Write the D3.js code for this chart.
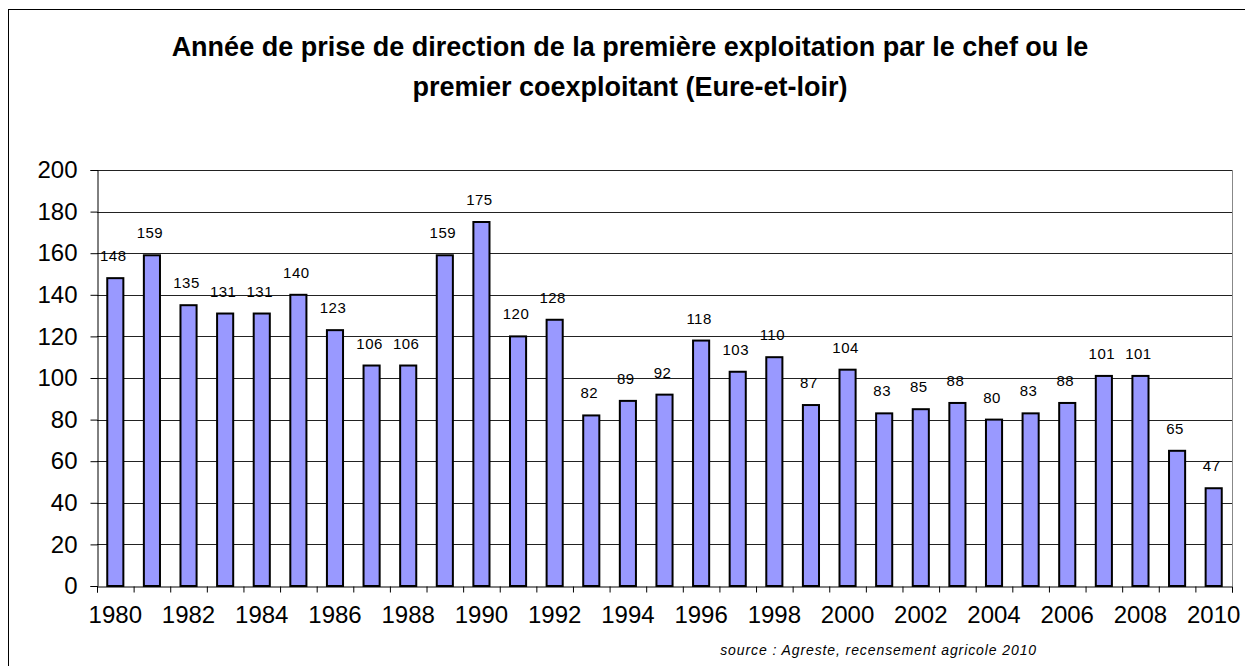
<!DOCTYPE html>
<html>
<head>
<meta charset="utf-8">
<script src="https://cdn.jsdelivr.net/npm/d3@7"></script>
<style>
  body { margin: 0; background: #fff; }
</style>
</head>
<body>
<div class="chart"></div>
<script>
// ---------------------------------- DATA
var years = [1980, 1981, 1982, 1983, 1984, 1985, 1986, 1987, 1988, 1989,
             1990, 1991, 1992, 1993, 1994, 1995, 1996, 1997, 1998, 1999,
             2000, 2001, 2002, 2003, 2004, 2005, 2006, 2007, 2008, 2009, 2010];
var counts = [148, 159, 135, 131, 131, 140, 123, 106, 106, 159,
              175, 120, 128, 82, 89, 92, 118, 103, 110, 87,
              104, 83, 85, 88, 80, 83, 88, 101, 101, 65, 47];
var yTicks = [0, 20, 40, 60, 80, 100, 120, 140, 160, 180, 200];
var titleLines = ["Année de prise de direction de la première exploitation par le chef ou le",
                  "premier coexploitant (Eure-et-loir)"];
var sourceText = "source : Agreste, recensement agricole 2010";

// ---------------------------------- SETUP
var width = 1245, height = 666;
var margin = {left: 97, right: 13, top: 170, bottom: 80};
var font = "'Liberation Sans', Arimo, Arial, sans-serif";

var svg = d3.select(".chart").append("svg")
  .attr("width", width)
  .attr("height", height);

// chart frame (right and bottom lie outside the picture)
svg.append("rect")
  .attr("x", 8.5).attr("y", 9.5)
  .attr("width", 1260).attr("height", 700)
  .attr("fill", "none")
  .attr("stroke", "#000");

var x = d3.scaleBand()
  .domain(years)
  .range([margin.left, width - margin.right])
  .paddingInner(0.56)
  .paddingOuter(0.28);

var y = d3.scaleLinear()
  .domain([0, 200])
  .range([height - margin.bottom, margin.top]);

// ---------------------------------- TITLE
svg.append("text")
  .attr("x", 630)
  .attr("text-anchor", "middle")
  .attr("font-family", font)
  .attr("font-weight", "bold")
  .attr("font-size", 27)
  .selectAll("tspan")
  .data(titleLines)
  .enter().append("tspan")
    .attr("x", 630)
    .attr("y", function(d, i) { return 56 + i * 40; })
    .text(function(d) { return d; });

// ---------------------------------- GRID
svg.append("g")
  .selectAll("line")
  .data(yTicks.slice(1))
  .enter().append("line")
    .attr("x1", margin.left)
    .attr("x2", width - margin.right)
    .attr("y1", function(d) { return Math.round(y(d)) + 0.5; })
    .attr("y2", function(d) { return Math.round(y(d)) + 0.5; })
    .attr("stroke", "#222");

// right border of plot area
svg.append("line")
  .attr("x1", width - margin.right + 0.5)
  .attr("x2", width - margin.right + 0.5)
  .attr("y1", y(200))
  .attr("y2", y(0))
  .attr("stroke", "#888");

// ---------------------------------- BARS
svg.append("g")
  .selectAll("rect")
  .data(counts)
  .enter().append("rect")
    .attr("x", function(d, i) { return x(years[i]); })
    .attr("y", function(d) { return y(d); })
    .attr("width", x.bandwidth())
    .attr("height", function(d) { return y(0) - y(d); })
    .attr("fill", "#9999ff")
    .attr("stroke", "#000")
    .attr("stroke-width", 2);

// value labels
svg.append("g")
  .selectAll("text")
  .data(counts)
  .enter().append("text")
    .attr("x", function(d, i) { return x(years[i]) + x.bandwidth() / 2 - 2; })
    .attr("y", function(d) { return y(d) - 17; })
    .attr("text-anchor", "middle")
    .attr("font-family", font)
    .attr("font-size", 15)
    .attr("letter-spacing", 0.5)
    .text(function(d) { return d; });

// ---------------------------------- AXES
var xAxis = d3.axisBottom(d3.scaleLinear().domain([0, years.length]).range([margin.left, width - margin.right]))
  .tickValues(d3.range(0, years.length + 1))
  .tickSize(6)
  .tickFormat("");

var xg = svg.append("g")
  .attr("transform", "translate(0," + (Math.round(y(0)) + 0.5) + ")")
  .call(xAxis);
xg.select(".domain").attr("stroke", "#000");

// year labels, every other year
svg.append("g")
  .selectAll("text")
  .data(years.filter(function(d) { return d % 2 === 0; }))
  .enter().append("text")
    .attr("x", function(d) { return x(d) + x.bandwidth() / 2; })
    .attr("y", y(0) + 37)
    .attr("text-anchor", "middle")
    .attr("font-family", font)
    .attr("font-size", 24)
    .text(function(d) { return d; });

var yAxis = d3.axisLeft(y)
  .tickValues(yTicks)
  .tickSize(7)
  .tickPadding(13)
  .tickFormat(d3.format("d"));

var yg = svg.append("g")
  .attr("class", "axis y")
  .attr("transform", "translate(" + (margin.left + 0.5) + ",0)")
  .call(yAxis);
yg.attr("font-family", font).attr("font-size", 24);
yg.selectAll("text").attr("fill", "#000");
yg.select(".domain").attr("stroke", "#000");

// ---------------------------------- SOURCE
svg.append("text")
  .attr("x", 1037)
  .attr("y", 655)
  .attr("text-anchor", "end")
  .attr("font-family", font)
  .attr("font-style", "italic")
  .attr("font-size", 14)
  .attr("letter-spacing", 0.9)
  .text(sourceText);
</script>
</body>
</html>
